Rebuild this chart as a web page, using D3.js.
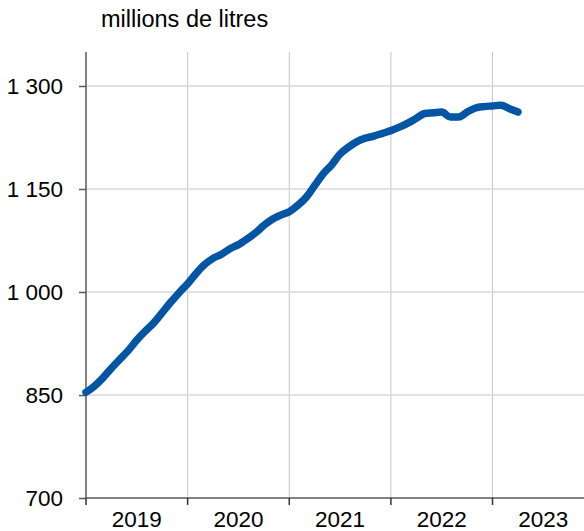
<!DOCTYPE html>
<html>
<head>
<meta charset="utf-8">
<script src="https://cdn.jsdelivr.net/npm/d3@7"></script>
<style>
  html, body { margin: 0; padding: 0; background: #fff; }
  svg { display: block; font-family: "Liberation Sans", Arial, sans-serif; }
</style>
</head>
<body>
<svg id="chart" width="584" height="531"></svg>
<script>
// Monthly data, January 2019 onward (millions de litres)
const startYear = 2019;
const values = [
  854, 863, 875, 889, 902, 915, 930, 943, 955, 970, 985, 999,
  1012, 1027, 1040, 1049, 1055, 1063, 1069, 1077, 1086, 1097, 1106, 1112,
  1117, 1126, 1138, 1155, 1172, 1185, 1201, 1211, 1219, 1224, 1227, 1231,
  1235, 1240, 1246, 1253, 1260, 1261, 1262, 1255, 1255, 1262, 1268, 1270,
  1271, 1272, 1267, 1262
];
const yTicks = [700, 850, 1000, 1150, 1300];
const yTickLabels = ["700", "850", "1 000", "1 150", "1 300"];
const years = [2019, 2020, 2021, 2022, 2023];
const unitLabel = "millions de litres";

const svg = d3.select("#chart");
const mLeft = 86, mRight = 584, mTop = 52, mBottom = 498;

const x = d3.scaleLinear().domain([2019, 2023.9]).range([mLeft, mRight]);
const y = d3.scaleLinear().domain([700, 1300]).range([mBottom, 86]);

// vertical gridlines
svg.append("g").selectAll("line").data(years.slice(1)).join("line")
  .attr("x1", d => x(d)).attr("x2", d => x(d))
  .attr("y1", mTop).attr("y2", mBottom)
  .attr("stroke", "#c6c6c6").attr("stroke-width", 1);

// horizontal gridlines
svg.append("g").selectAll("line").data(yTicks.slice(1)).join("line")
  .attr("x1", mLeft).attr("x2", mRight)
  .attr("y1", d => y(d)).attr("y2", d => y(d))
  .attr("stroke", "#d9d9d9").attr("stroke-width", 1.5);

// y axis
const yAxis = d3.axisLeft(y).tickValues(yTicks)
  .tickFormat((d, i) => yTickLabels[i]).tickSize(7).tickPadding(16);
const gy = svg.append("g").attr("transform", `translate(${mLeft},0)`).call(yAxis);
gy.select(".domain").remove();
gy.append("line").attr("x1", 0).attr("x2", 0).attr("y1", mTop).attr("y2", mBottom)
  .attr("stroke", "#595959").attr("stroke-width", 1.5);
gy.selectAll(".tick line").attr("stroke", "#595959").attr("stroke-width", 1.5);
gy.selectAll(".tick text").attr("fill", "#000").style("font-size", "22.5px")
  .style("font-family", "Liberation Sans, Arial, sans-serif").attr("dy", "0.35em");

// x axis
const gx = svg.append("g").attr("transform", `translate(0,${mBottom})`);
gx.append("line").attr("x1", mLeft).attr("x2", mRight).attr("y1", 0).attr("y2", 0)
  .attr("stroke", "#595959").attr("stroke-width", 1.5);
gx.selectAll("line.tk").data(years).join("line").attr("class", "tk")
  .attr("x1", d => x(d)).attr("x2", d => x(d)).attr("y1", 0).attr("y2", 7)
  .attr("stroke", "#333").attr("stroke-width", 1.5);
gx.selectAll("text").data(years).join("text")
  .attr("x", d => x(d + 0.5)).attr("y", 29)
  .attr("text-anchor", "middle").attr("fill", "#000")
  .style("font-size", "22.5px").text(d => d);

// unit label
svg.append("text").attr("x", 101).attr("y", 27)
  .attr("fill", "#000").style("font-size", "23.5px").text(unitLabel);

// line
const line = d3.line()
  .x((d, i) => x(startYear + i / 12))
  .y(d => y(d))
  .curve(d3.curveMonotoneX);
svg.append("path").datum(values)
  .attr("d", line).attr("fill", "none")
  .attr("stroke", "#0455a4").attr("stroke-width", 7.5)
  .attr("stroke-linecap", "round").attr("stroke-linejoin", "round");
</script>
</body>
</html>
